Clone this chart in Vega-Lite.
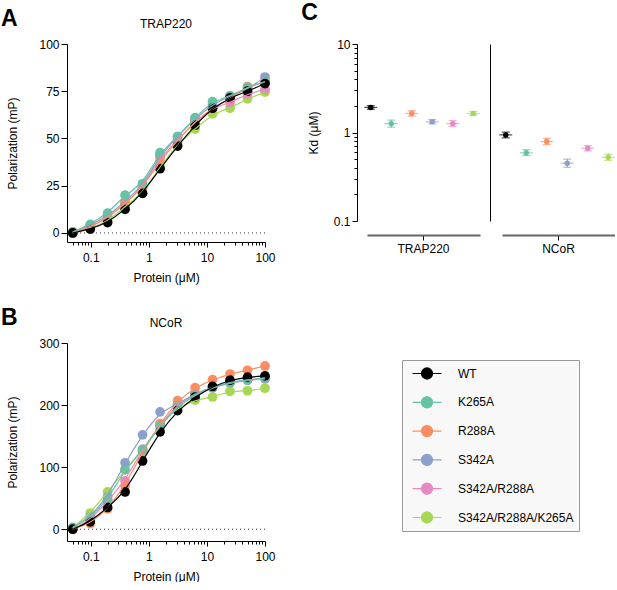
{
  "$schema": "https://vega.github.io/schema/vega-lite/v6.json",
  "padding": {"top": 2, "left": 0, "right": 0, "bottom": 0},
  "config": {
    "font": "Liberation Sans",
    "view": {"stroke": null},
    "axis": {"grid": false, "domainColor": "#000", "tickColor": "#000", "labelColor": "#000", "titleColor": "#000", "labelFont": "Liberation Sans", "titleFont": "Liberation Sans", "labelFontSize": 12, "titleFontSize": 12, "titleFontWeight": "normal"},
    "title": {"font": "Liberation Sans", "fontSize": 12, "fontWeight": "normal", "color": "#000", "offset": 7.5, "anchor": "middle", "frame": "group"}
  },
  "datasets": {
    "trap220": [
      {"mutant": "S342A/R288A/K265A", "conc": 0.049, "mP": 0},
      {"mutant": "S342A/R288A/K265A", "conc": 0.098, "mP": 2.5},
      {"mutant": "S342A/R288A/K265A", "conc": 0.195, "mP": 6},
      {"mutant": "S342A/R288A/K265A", "conc": 0.39, "mP": 14},
      {"mutant": "S342A/R288A/K265A", "conc": 0.78, "mP": 21},
      {"mutant": "S342A/R288A/K265A", "conc": 1.56, "mP": 35},
      {"mutant": "S342A/R288A/K265A", "conc": 3.125, "mP": 47},
      {"mutant": "S342A/R288A/K265A", "conc": 6.25, "mP": 55},
      {"mutant": "S342A/R288A/K265A", "conc": 12.5, "mP": 63},
      {"mutant": "S342A/R288A/K265A", "conc": 25, "mP": 66},
      {"mutant": "S342A/R288A/K265A", "conc": 50, "mP": 71},
      {"mutant": "S342A/R288A/K265A", "conc": 100, "mP": 74.5},
      {"mutant": "S342A/R288A", "conc": 0.049, "mP": 0},
      {"mutant": "S342A/R288A", "conc": 0.098, "mP": 3},
      {"mutant": "S342A/R288A", "conc": 0.195, "mP": 8},
      {"mutant": "S342A/R288A", "conc": 0.39, "mP": 15.5},
      {"mutant": "S342A/R288A", "conc": 0.78, "mP": 24},
      {"mutant": "S342A/R288A", "conc": 1.56, "mP": 40},
      {"mutant": "S342A/R288A", "conc": 3.125, "mP": 49},
      {"mutant": "S342A/R288A", "conc": 6.25, "mP": 59},
      {"mutant": "S342A/R288A", "conc": 12.5, "mP": 66},
      {"mutant": "S342A/R288A", "conc": 25, "mP": 69},
      {"mutant": "S342A/R288A", "conc": 50, "mP": 73.5},
      {"mutant": "S342A/R288A", "conc": 100, "mP": 76},
      {"mutant": "S342A", "conc": 0.049, "mP": 0.5},
      {"mutant": "S342A", "conc": 0.098, "mP": 4},
      {"mutant": "S342A", "conc": 0.195, "mP": 9},
      {"mutant": "S342A", "conc": 0.39, "mP": 16.5},
      {"mutant": "S342A", "conc": 0.78, "mP": 25},
      {"mutant": "S342A", "conc": 1.56, "mP": 41},
      {"mutant": "S342A", "conc": 3.125, "mP": 51},
      {"mutant": "S342A", "conc": 6.25, "mP": 60.5},
      {"mutant": "S342A", "conc": 12.5, "mP": 68},
      {"mutant": "S342A", "conc": 25, "mP": 72.5},
      {"mutant": "S342A", "conc": 50, "mP": 76},
      {"mutant": "S342A", "conc": 100, "mP": 82.5},
      {"mutant": "R288A", "conc": 0.049, "mP": 0},
      {"mutant": "R288A", "conc": 0.098, "mP": 3},
      {"mutant": "R288A", "conc": 0.195, "mP": 8},
      {"mutant": "R288A", "conc": 0.39, "mP": 15.5},
      {"mutant": "R288A", "conc": 0.78, "mP": 24},
      {"mutant": "R288A", "conc": 1.56, "mP": 38},
      {"mutant": "R288A", "conc": 3.125, "mP": 49},
      {"mutant": "R288A", "conc": 6.25, "mP": 59},
      {"mutant": "R288A", "conc": 12.5, "mP": 66},
      {"mutant": "R288A", "conc": 25, "mP": 71},
      {"mutant": "R288A", "conc": 50, "mP": 77.5},
      {"mutant": "R288A", "conc": 100, "mP": 80},
      {"mutant": "K265A", "conc": 0.049, "mP": 0.5},
      {"mutant": "K265A", "conc": 0.098, "mP": 4.5},
      {"mutant": "K265A", "conc": 0.195, "mP": 10.5},
      {"mutant": "K265A", "conc": 0.39, "mP": 20},
      {"mutant": "K265A", "conc": 0.78, "mP": 26},
      {"mutant": "K265A", "conc": 1.56, "mP": 42.5},
      {"mutant": "K265A", "conc": 3.125, "mP": 51},
      {"mutant": "K265A", "conc": 6.25, "mP": 61},
      {"mutant": "K265A", "conc": 12.5, "mP": 69.5},
      {"mutant": "K265A", "conc": 25, "mP": 72.5},
      {"mutant": "K265A", "conc": 50, "mP": 77},
      {"mutant": "K265A", "conc": 100, "mP": 80},
      {"mutant": "WT", "conc": 0.049, "mP": 0},
      {"mutant": "WT", "conc": 0.098, "mP": 2},
      {"mutant": "WT", "conc": 0.195, "mP": 5.5},
      {"mutant": "WT", "conc": 0.39, "mP": 12.5},
      {"mutant": "WT", "conc": 0.78, "mP": 21},
      {"mutant": "WT", "conc": 1.56, "mP": 34},
      {"mutant": "WT", "conc": 3.125, "mP": 46},
      {"mutant": "WT", "conc": 6.25, "mP": 57},
      {"mutant": "WT", "conc": 12.5, "mP": 66},
      {"mutant": "WT", "conc": 25, "mP": 71.5},
      {"mutant": "WT", "conc": 50, "mP": 75},
      {"mutant": "WT", "conc": 100, "mP": 79}
    ],
    "ncor": [
      {"mutant": "S342A/R288A/K265A", "conc": 0.049, "mP": 2},
      {"mutant": "S342A/R288A/K265A", "conc": 0.098, "mP": 26},
      {"mutant": "S342A/R288A/K265A", "conc": 0.195, "mP": 60},
      {"mutant": "S342A/R288A/K265A", "conc": 0.39, "mP": 96},
      {"mutant": "S342A/R288A/K265A", "conc": 0.78, "mP": 125},
      {"mutant": "S342A/R288A/K265A", "conc": 1.56, "mP": 170},
      {"mutant": "S342A/R288A/K265A", "conc": 3.125, "mP": 196},
      {"mutant": "S342A/R288A/K265A", "conc": 6.25, "mP": 208},
      {"mutant": "S342A/R288A/K265A", "conc": 12.5, "mP": 213},
      {"mutant": "S342A/R288A/K265A", "conc": 25, "mP": 222},
      {"mutant": "S342A/R288A/K265A", "conc": 50, "mP": 223},
      {"mutant": "S342A/R288A/K265A", "conc": 100, "mP": 227},
      {"mutant": "S342A/R288A", "conc": 0.049, "mP": 0},
      {"mutant": "S342A/R288A", "conc": 0.098, "mP": 15},
      {"mutant": "S342A/R288A", "conc": 0.195, "mP": 45},
      {"mutant": "S342A/R288A", "conc": 0.39, "mP": 78},
      {"mutant": "S342A/R288A", "conc": 0.78, "mP": 129},
      {"mutant": "S342A/R288A", "conc": 1.56, "mP": 168},
      {"mutant": "S342A/R288A", "conc": 3.125, "mP": 201},
      {"mutant": "S342A/R288A", "conc": 6.25, "mP": 217},
      {"mutant": "S342A/R288A", "conc": 12.5, "mP": 228},
      {"mutant": "S342A/R288A", "conc": 25, "mP": 236},
      {"mutant": "S342A/R288A", "conc": 50, "mP": 240},
      {"mutant": "S342A/R288A", "conc": 100, "mP": 242},
      {"mutant": "S342A", "conc": 0.049, "mP": 2},
      {"mutant": "S342A", "conc": 0.098, "mP": 20},
      {"mutant": "S342A", "conc": 0.195, "mP": 52},
      {"mutant": "S342A", "conc": 0.39, "mP": 107},
      {"mutant": "S342A", "conc": 0.78, "mP": 152},
      {"mutant": "S342A", "conc": 1.56, "mP": 189},
      {"mutant": "S342A", "conc": 3.125, "mP": 201},
      {"mutant": "S342A", "conc": 6.25, "mP": 219},
      {"mutant": "S342A", "conc": 12.5, "mP": 229},
      {"mutant": "S342A", "conc": 25, "mP": 237},
      {"mutant": "S342A", "conc": 50, "mP": 241},
      {"mutant": "S342A", "conc": 100, "mP": 243},
      {"mutant": "R288A", "conc": 0.049, "mP": 0},
      {"mutant": "R288A", "conc": 0.098, "mP": 9},
      {"mutant": "R288A", "conc": 0.195, "mP": 33},
      {"mutant": "R288A", "conc": 0.39, "mP": 70},
      {"mutant": "R288A", "conc": 0.78, "mP": 125},
      {"mutant": "R288A", "conc": 1.56, "mP": 170},
      {"mutant": "R288A", "conc": 3.125, "mP": 207},
      {"mutant": "R288A", "conc": 6.25, "mP": 228},
      {"mutant": "R288A", "conc": 12.5, "mP": 241},
      {"mutant": "R288A", "conc": 25, "mP": 250},
      {"mutant": "R288A", "conc": 50, "mP": 256},
      {"mutant": "R288A", "conc": 100, "mP": 263},
      {"mutant": "K265A", "conc": 0.049, "mP": 3},
      {"mutant": "K265A", "conc": 0.098, "mP": 18},
      {"mutant": "K265A", "conc": 0.195, "mP": 48},
      {"mutant": "K265A", "conc": 0.39, "mP": 96},
      {"mutant": "K265A", "conc": 0.78, "mP": 128},
      {"mutant": "K265A", "conc": 1.56, "mP": 166},
      {"mutant": "K265A", "conc": 3.125, "mP": 198},
      {"mutant": "K265A", "conc": 6.25, "mP": 216},
      {"mutant": "K265A", "conc": 12.5, "mP": 228},
      {"mutant": "K265A", "conc": 25, "mP": 236},
      {"mutant": "K265A", "conc": 50, "mP": 240},
      {"mutant": "K265A", "conc": 100, "mP": 244},
      {"mutant": "WT", "conc": 0.049, "mP": 0},
      {"mutant": "WT", "conc": 0.098, "mP": 12},
      {"mutant": "WT", "conc": 0.195, "mP": 35},
      {"mutant": "WT", "conc": 0.39, "mP": 60},
      {"mutant": "WT", "conc": 0.78, "mP": 110},
      {"mutant": "WT", "conc": 1.56, "mP": 157},
      {"mutant": "WT", "conc": 3.125, "mP": 191},
      {"mutant": "WT", "conc": 6.25, "mP": 213},
      {"mutant": "WT", "conc": 12.5, "mP": 230},
      {"mutant": "WT", "conc": 25, "mP": 240},
      {"mutant": "WT", "conc": 50, "mP": 245},
      {"mutant": "WT", "conc": 100, "mP": 247}
    ],
    "kd": [
      {"target": "TRAP220", "mutant": "WT", "kd": 1.92, "lo": 1.83, "hi": 2.01},
      {"target": "TRAP220", "mutant": "K265A", "kd": 1.26, "lo": 1.15, "hi": 1.38},
      {"target": "TRAP220", "mutant": "R288A", "kd": 1.64, "lo": 1.53, "hi": 1.76},
      {"target": "TRAP220", "mutant": "S342A", "kd": 1.32, "lo": 1.25, "hi": 1.4},
      {"target": "TRAP220", "mutant": "S342A/R288A", "kd": 1.26, "lo": 1.17, "hi": 1.36},
      {"target": "TRAP220", "mutant": "S342A/R288A/K265A", "kd": 1.64, "lo": 1.56, "hi": 1.73},
      {"target": "NCoR", "mutant": "WT", "kd": 0.94, "lo": 0.87, "hi": 1.01},
      {"target": "NCoR", "mutant": "K265A", "kd": 0.59, "lo": 0.55, "hi": 0.64},
      {"target": "NCoR", "mutant": "R288A", "kd": 0.79, "lo": 0.73, "hi": 0.86},
      {"target": "NCoR", "mutant": "S342A", "kd": 0.45, "lo": 0.405, "hi": 0.5},
      {"target": "NCoR", "mutant": "S342A/R288A", "kd": 0.665, "lo": 0.62, "hi": 0.71},
      {"target": "NCoR", "mutant": "S342A/R288A/K265A", "kd": 0.525, "lo": 0.485, "hi": 0.57}
    ]
  },
  "spacing": 25,
  "hconcat": [
    {
      "spacing": 24,
      "vconcat": [
        {
          "title": {"text": "A", "anchor": "start", "frame": "bounds", "fontSize": 23, "fontWeight": "bold", "offset": -13.5, "dx": -6},
          "vconcat": [
            {
              "title": "TRAP220",
              "width": 198,
              "height": 198,
              "layer": [
                {
                  "data": {"values": [{}]},
                  "mark": {"type": "rule", "strokeDash": [1, 3], "color": "#333", "strokeWidth": 1},
                  "encoding": {"y": {"datum": 0, "type": "quantitative"}}
                },
                {
                  "data": {"name": "trap220"},
                  "mark": {"type": "point", "filled": true, "size": 95, "opacity": 1},
                  "encoding": {
                    "x": {"field": "conc", "type": "quantitative", "title": "Protein (μM)",
                      "scale": {"type": "log", "domain": [0.039, 100], "nice": false},
                      "axis": {"values": [0.05, 0.06, 0.07, 0.08, 0.09, 0.1, 0.2, 0.3, 0.4, 0.5, 0.6, 0.7, 0.8, 0.9, 1, 2, 3, 4, 5, 6, 7, 8, 9, 10, 20, 30, 40, 50, 60, 70, 80, 90, 100],
                        "format": "~g", "labelExpr": "indexof([0.1, 1, 10, 100], datum.value) >= 0 ? datum.label : ''",
                        "tickSize": {"condition": {"test": "indexof([0.1, 1, 10, 100], datum.value) >= 0", "value": 5}, "value": 3},
                        "labelPadding": 5, "titlePadding": 9, "labelFlush": false, "labelOverlap": false}},
                    "y": {"field": "mP", "type": "quantitative", "title": "Polarization (mP)",
                      "scale": {"domain": [-4.8, 100], "nice": false, "zero": false},
                      "axis": {"values": [0, 25, 50, 75, 100], "tickSize": 6, "labelPadding": 2, "titlePadding": 19}},
                    "color": {"field": "mutant", "type": "nominal",
                      "scale": {"domain": ["WT", "K265A", "R288A", "S342A", "S342A/R288A", "S342A/R288A/K265A"], "range": ["#000000", "#66c2a5", "#fc8d62", "#8da0cb", "#e78ac3", "#a6d854"]},
                      "legend": {"orient": "none", "legendX": 335, "legendY": 316, "title": null, "direction": "vertical",
                        "symbolType": "M-2.07,0L2.07,0M-0.79,0A0.79,0.79,0,1,1,0.79,0A0.79,0.79,0,1,1,-0.79,0Z",
                        "symbolSize": 196, "symbolStrokeWidth": 1.2, "labelFontSize": 12, "labelFont": "Liberation Sans", "labelColor": "#000",
                        "labelOffset": 23, "rowPadding": 12.8, "padding": 5.5, "symbolOffset": 11.5, "labelLimit": 300,
                        "fillColor": "#f8f8f8", "strokeColor": "#999",
                        "encode": {"symbols": {"update": {"fill": {"scale": "color", "field": "value"}, "stroke": {"scale": "color", "field": "value"}, "opacity": {"value": 1}}}}}}
                  }
                },
                {
                  "data": {"name": "trap220"},
                  "mark": {"type": "line", "interpolate": "basis", "strokeWidth": 1.2},
                  "encoding": {
                    "x": {"field": "conc", "type": "quantitative"},
                    "y": {"field": "mP", "type": "quantitative"},
                    "color": {"field": "mutant", "type": "nominal"}
                  }
                }
              ]
            }
          ]
        },
        {
          "title": {"text": "B", "anchor": "start", "frame": "bounds", "fontSize": 23, "fontWeight": "bold", "offset": -13.5, "dx": -6},
          "vconcat": [
            {
              "title": "NCoR",
              "width": 198,
              "height": 198,
              "layer": [
                {
                  "data": {"values": [{}]},
                  "mark": {"type": "rule", "strokeDash": [1, 3], "color": "#333", "strokeWidth": 1},
                  "encoding": {"y": {"datum": 0, "type": "quantitative"}}
                },
                {
                  "data": {"name": "ncor"},
                  "mark": {"type": "point", "filled": true, "size": 95, "opacity": 1},
                  "encoding": {
                    "x": {"field": "conc", "type": "quantitative", "title": "Protein (μM)",
                      "scale": {"type": "log", "domain": [0.039, 100], "nice": false},
                      "axis": {"values": [0.05, 0.06, 0.07, 0.08, 0.09, 0.1, 0.2, 0.3, 0.4, 0.5, 0.6, 0.7, 0.8, 0.9, 1, 2, 3, 4, 5, 6, 7, 8, 9, 10, 20, 30, 40, 50, 60, 70, 80, 90, 100],
                        "format": "~g", "labelExpr": "indexof([0.1, 1, 10, 100], datum.value) >= 0 ? datum.label : ''",
                        "tickSize": {"condition": {"test": "indexof([0.1, 1, 10, 100], datum.value) >= 0", "value": 5}, "value": 3},
                        "labelPadding": 5, "titlePadding": 9, "labelFlush": false, "labelOverlap": false}},
                    "y": {"field": "mP", "type": "quantitative", "title": "Polarization (mP)",
                      "scale": {"domain": [-19, 300], "nice": false, "zero": false},
                      "axis": {"values": [0, 100, 200, 300], "tickSize": 6, "labelPadding": 2, "titlePadding": 19}},
                    "color": {"field": "mutant", "type": "nominal"}
                  }
                },
                {
                  "data": {"name": "ncor"},
                  "mark": {"type": "line", "interpolate": "basis", "strokeWidth": 1.2},
                  "encoding": {
                    "x": {"field": "conc", "type": "quantitative"},
                    "y": {"field": "mP", "type": "quantitative"},
                    "color": {"field": "mutant", "type": "nominal"}
                  }
                }
              ]
            }
          ]
        }
      ]
    },
    {
      "title": {"text": "C", "anchor": "start", "frame": "bounds", "fontSize": 23, "fontWeight": "bold", "offset": 13, "dx": -6},
      "spacing": 10,
      "hconcat": [
        {
          "width": 113,
          "height": 177,
          "data": {"name": "kd"},
          "transform": [{"filter": "datum.target == 'TRAP220'"}],
          "encoding": {
            "x": {"field": "target", "type": "nominal", "scale": {"paddingInner": 0, "paddingOuter": 0},
              "axis": {"title": null, "labelAngle": 0, "tickSize": 5, "offset": 14, "domainColor": "#666", "domainWidth": 2, "labelPadding": 3}},
            "xOffset": {"field": "mutant", "type": "nominal", "scale": {"domain": ["WT", "K265A", "R288A", "S342A", "S342A/R288A", "S342A/R288A/K265A"], "range": [-6.5, 116.5], "paddingInner": 0, "paddingOuter": 0}},
            "color": {"field": "mutant", "type": "nominal"}
          },
          "layer": [
            {
              "mark": {"type": "rule", "strokeWidth": 1.2},
              "encoding": {
                "y": {"field": "lo", "type": "quantitative", "title": "Kd (μM)",
                  "scale": {"type": "log", "domain": [0.1, 10], "nice": false},
                  "axis": {"values": [0.1, 0.2, 0.3, 0.4, 0.5, 0.6, 0.7, 0.8, 0.9, 1, 2, 3, 4, 5, 6, 7, 8, 9, 10],
                    "format": "~g", "labelExpr": "indexof([0.1, 1, 10], datum.value) >= 0 ? datum.label : ''",
                    "tickSize": {"condition": {"test": "indexof([0.1, 1, 10], datum.value) >= 0", "value": 5}, "value": 3},
                    "offset": 10, "labelPadding": 2, "titlePadding": 13, "labelOverlap": false, "labelFlush": false}},
                "y2": {"field": "hi"}
              }
            },
            {"mark": {"type": "tick", "size": 8, "thickness": 1.2}, "encoding": {"y": {"field": "lo", "type": "quantitative", "title": "Kd (μM)"}}},
            {"mark": {"type": "tick", "size": 8, "thickness": 1.2}, "encoding": {"y": {"field": "hi", "type": "quantitative", "title": "Kd (μM)"}}},
            {"mark": {"type": "tick", "size": 13, "thickness": 1.2}, "encoding": {"y": {"field": "kd", "type": "quantitative", "title": "Kd (μM)"}}},
            {"mark": {"type": "point", "filled": true, "size": 30, "opacity": 1}, "encoding": {"y": {"field": "kd", "type": "quantitative", "title": "Kd (μM)"}}}
          ]
        },
        {
          "width": 113,
          "height": 177,
          "data": {"name": "kd"},
          "transform": [{"filter": "datum.target == 'NCoR'"}],
          "encoding": {
            "x": {"field": "target", "type": "nominal", "scale": {"paddingInner": 0, "paddingOuter": 0},
              "axis": {"title": null, "labelAngle": 0, "tickSize": 5, "offset": 14, "domainColor": "#666", "domainWidth": 2, "labelPadding": 3}},
            "xOffset": {"field": "mutant", "type": "nominal", "scale": {"domain": ["WT", "K265A", "R288A", "S342A", "S342A/R288A", "S342A/R288A/K265A"], "range": [-6.5, 116.5], "paddingInner": 0, "paddingOuter": 0}},
            "color": {"field": "mutant", "type": "nominal"}
          },
          "layer": [
            {
              "mark": {"type": "rule", "strokeWidth": 1.2},
              "encoding": {
                "y": {"field": "lo", "type": "quantitative", "title": null,
                  "scale": {"type": "log", "domain": [0.1, 10], "nice": false},
                  "axis": {"labels": false, "ticks": false, "title": null, "offset": 12}},
                "y2": {"field": "hi"}
              }
            },
            {"mark": {"type": "tick", "size": 8, "thickness": 1.2}, "encoding": {"y": {"field": "lo", "type": "quantitative", "title": null}}},
            {"mark": {"type": "tick", "size": 8, "thickness": 1.2}, "encoding": {"y": {"field": "hi", "type": "quantitative", "title": null}}},
            {"mark": {"type": "tick", "size": 13, "thickness": 1.2}, "encoding": {"y": {"field": "kd", "type": "quantitative", "title": null}}},
            {"mark": {"type": "point", "filled": true, "size": 30, "opacity": 1}, "encoding": {"y": {"field": "kd", "type": "quantitative", "title": null}}}
          ]
        }
      ]
    }
  ]
}
